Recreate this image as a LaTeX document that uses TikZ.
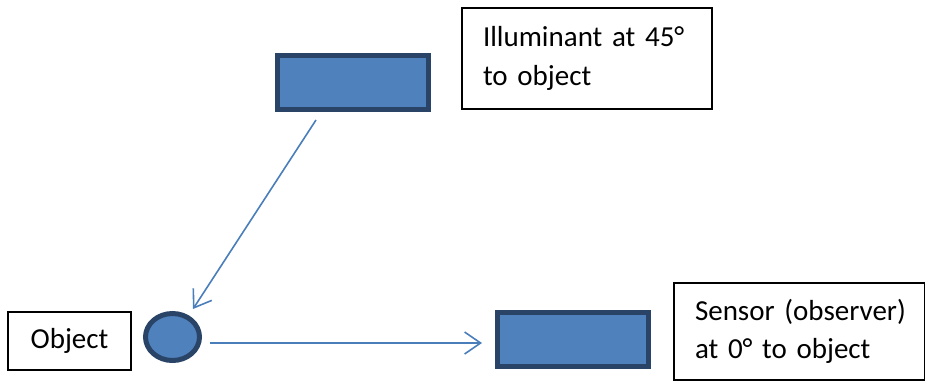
\documentclass[tikz,border=0pt]{standalone}
\usepackage{fontspec}
\setmainfont[WordSpace=0.8]{Carlito}
\usetikzlibrary{shapes.geometric,arrows.meta}
\definecolor{fillblue}{HTML}{4F81BD}
\definecolor{navy}{HTML}{2A4468}
\definecolor{arrowblue}{HTML}{4A7EBB}
\tikzset{
  bluebox/.style={draw=navy, fill=fillblue, line width=5pt, minimum width=151pt, minimum height=54pt, inner sep=0pt},
  bluedot/.style={ellipse, draw=navy, fill=fillblue, line width=5pt, minimum width=54pt, minimum height=47pt, inner sep=0pt},
  labelbox/.style={draw=black, line width=2pt, align=left, font=\fontsize{29}{38.5}\selectfont, inner xsep=21pt, inner ysep=0pt},
  ray/.style={draw=arrowblue, line width=1.6pt, -{Straight Barb[length=16pt,width=22pt,line width=1.6pt]}}
}
\begin{document}
\begin{tikzpicture}[x=1pt,y=-1pt]
\useasboundingbox (0,0) rectangle (925,383);
\node[bluebox] (illum) at (353,82.5) {};
\node[bluebox] (sensor) at (573,339.5) {};
\node[bluedot] (obj) at (172.5,337) {};
\node[labelbox, anchor=west, text width=208pt, minimum height=101pt] (illumtext) at (461,58.5) {\mbox{Illuminant at 45°}\\\mbox{to object}};
\node[labelbox, anchor=west, text width=209pt, minimum height=97pt] (sensortext) at (673,331.5) {\mbox{Sensor (observer)}\\\mbox{at 0° to object}};
\node[draw=black, line width=2pt, minimum width=123pt, minimum height=58pt, font=\fontsize{29}{38.5}\selectfont] (objtext) at (69.5,341) {Object};
\coordinate (r1s) at (316,120);
\coordinate (r1e) at (193,309);
\coordinate (r2s) at (210,343);
\coordinate (r2e) at (482,343);
\draw[ray] (r1s) -- (r1e);
\draw[ray] (r2s) -- (r2e);
\end{tikzpicture}
\end{document}
